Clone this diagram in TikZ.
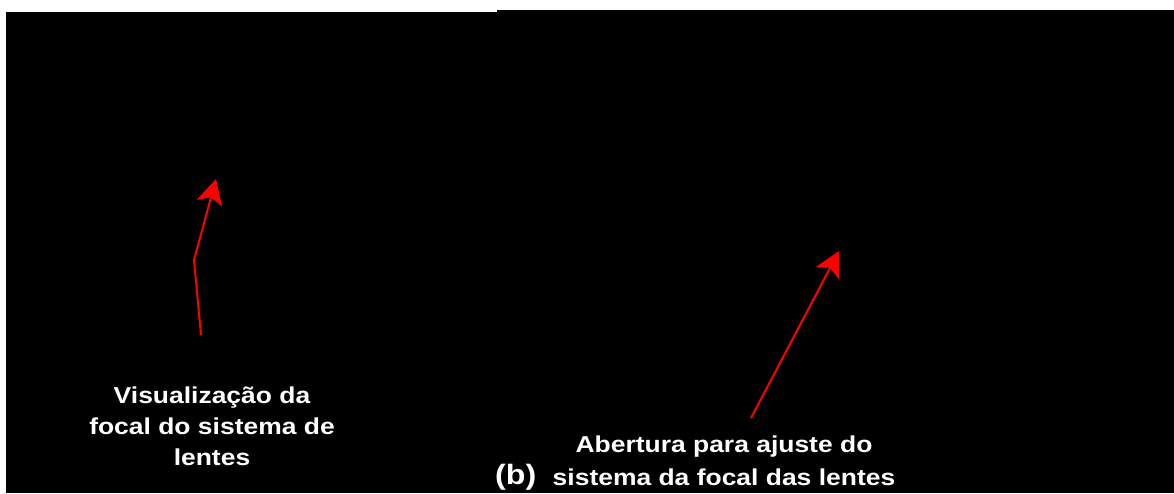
\documentclass[tikz,border=0pt]{standalone}
\usepackage{fontspec}
\newfontfamily\lblfont[FakeStretch=1.15]{Liberation Sans}
\usetikzlibrary{arrows.meta}
\begin{document}
\begin{tikzpicture}[x=1pt,y=-1pt,line join=round,
    lbl/.style={text=white,inner sep=0pt,align=center,font=\lblfont\bfseries\fontsize{23}{#1}\selectfont},
    seta/.style={draw=red,line width=2pt,-{Stealth[length=25pt,width=26pt,inset=6pt]}}]
    \def\W{1174}
    \def\H{493}
    \useasboundingbox (0,0) rectangle (\W,\H);
    % the two photographs
    \fill[black] (6,12) rectangle (497,\H);
    \fill[black] (497,10) rectangle (\W,\H);
    % labels (base = last line)
    \node[lbl=31,anchor=base] (vis) at (212,465)
        {Visualização da\\focal do sistema de\\lentes};
    \node[lbl=33,anchor=base] (abert) at (724,485)
        {Abertura para ajuste do\\sistema da focal das lentes};
    \node[lbl=33,anchor=base west,font=\lblfont\bfseries\fontsize{28}{33}\selectfont] (lblb) at (495,484) {(b)};
    % arrows
    \coordinate (focalTail) at (201,335);
    \coordinate (focalBend) at (194,260);
    \coordinate (focalTip) at (216,179);
    \coordinate (abertTail) at (751,418);
    \coordinate (abertTip) at (839,251);
    \draw[seta] (focalTail) -- (focalBend) -- (focalTip);
    \draw[seta] (abertTail) -- (abertTip);
\end{tikzpicture}
\end{document}
